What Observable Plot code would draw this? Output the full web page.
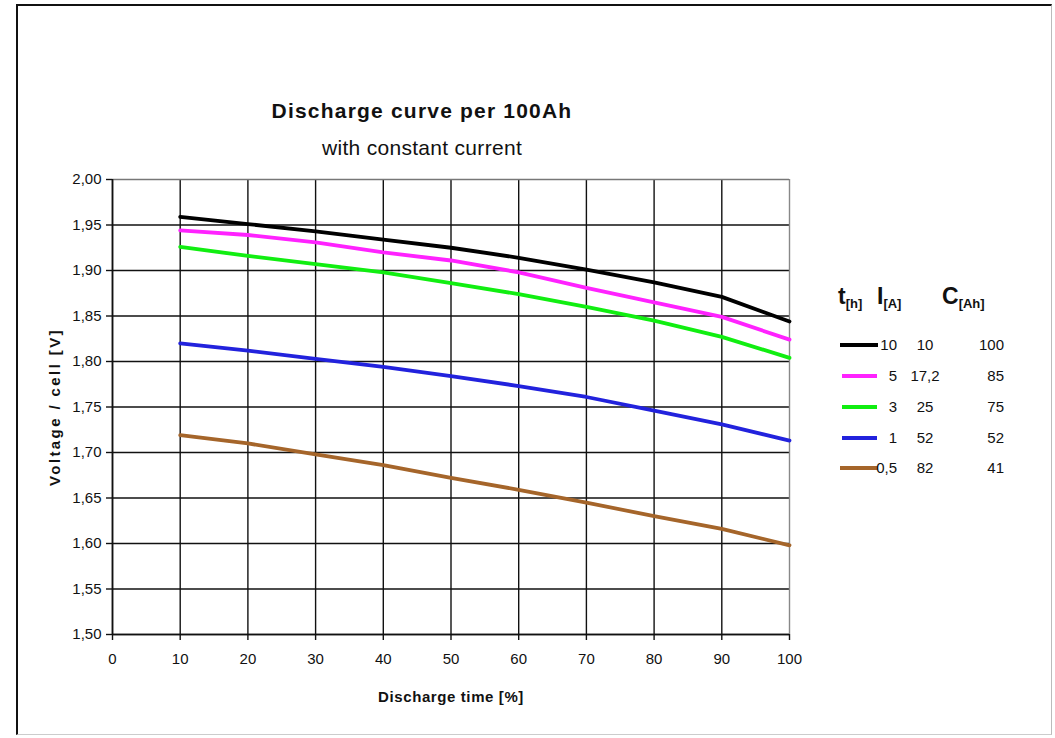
<!DOCTYPE html>
<html>
<head>
<meta charset="utf-8">
<script src="https://cdn.jsdelivr.net/npm/d3@7"></script>
<script src="https://cdn.jsdelivr.net/npm/@observablehq/plot@0.6"></script>
<style>
  html, body { margin: 0; padding: 0; background: #fff; }
  #wrap { position: relative; width: 1055px; height: 738px; overflow: hidden; background: #fff;
          font-family: "Liberation Sans", Arial, sans-serif; color: #111; }
  #frame { position: absolute; left: 16px; top: 4px; width: 1036px; height: 731px;
           border-left: 2.5px solid #111; border-top: 2.5px solid #111;
           border-right: 1px solid #bbb; border-bottom: 1px solid #ccc; box-sizing: border-box; }
  #chart { position: absolute; left: 0; top: 0; }
  .title { position: absolute; left: 172px; width: 500px; text-align: center; white-space: nowrap; }
  #t1 { top: 99px; font-weight: bold; font-size: 21px; letter-spacing: 1.2px; }
  #t2 { top: 136px; font-size: 21px; letter-spacing: 0.3px; }
  .lg { position: absolute; white-space: nowrap; font-size: 15px; line-height: 16px; }
  .hdr { position: absolute; white-space: nowrap; font-weight: bold; font-size: 23px; top: 283px; }
  .hdr sub { font-size: 13px; vertical-align: -4px; }
  .sw { position: absolute; height: 4px; }
</style>
</head>
<body>
<div id="wrap">
  <div id="frame"></div>
  <div id="chart"></div>
  <div class="title" id="t1">Discharge curve per 100Ah</div>
  <div class="title" id="t2">with constant current</div>
  <div id="legend"></div>
</div>
<script>
// ---- data ----
const dischargeTime = [10, 20, 30, 40, 50, 60, 70, 80, 90, 100];
const v10h  = [1.959, 1.951, 1.943, 1.934, 1.925, 1.914, 1.901, 1.887, 1.871, 1.844];
const v5h   = [1.944, 1.939, 1.931, 1.920, 1.911, 1.898, 1.881, 1.865, 1.849, 1.824];
const v3h   = [1.926, 1.916, 1.907, 1.898, 1.886, 1.874, 1.860, 1.845, 1.827, 1.804];
const v1h   = [1.820, 1.812, 1.803, 1.794, 1.784, 1.773, 1.761, 1.746, 1.731, 1.713];
const v05h  = [1.719, 1.710, 1.698, 1.686, 1.672, 1.659, 1.645, 1.630, 1.616, 1.598];
const hours      = ["10", "5", "3", "1", "0,5"];
const currents   = ["10", "17,2", "25", "52", "82"];
const capacities = ["100", "85", "75", "52", "41"];
const colors     = ["#000000", "#ff22ff", "#11ee11", "#2222dd", "#a5652a"];
const xTicks = [0, 10, 20, 30, 40, 50, 60, 70, 80, 90, 100];
const yTicks = [1.50, 1.55, 1.60, 1.65, 1.70, 1.75, 1.80, 1.85, 1.90, 1.95, 2.00];

const seriesVals = [v10h, v5h, v3h, v1h, v05h];
const rows = [];
seriesVals.forEach((vals, s) => vals.forEach((v, i) => rows.push({series: hours[s], t: dischargeTime[i], v})));

const fmt = d => d.toFixed(2).replace(".", ",");

const plot = Plot.plot({
  width: 1055,
  height: 738,
  marginLeft: 112,
  marginRight: 266,
  marginTop: 179,
  marginBottom: 104,
  style: {background: "transparent", fontFamily: "'Liberation Sans', Arial, sans-serif", color: "#111"},
  x: {domain: [0, 100]},
  y: {domain: [1.5, 2.0]},
  color: {domain: hours, range: colors},
  marks: [
    Plot.gridX(xTicks.filter(d => d < 100), {stroke: "#111", strokeOpacity: 1, strokeWidth: 1.4}),
    Plot.gridY(yTicks.filter(d => d < 2.0), {stroke: "#111", strokeOpacity: 1, strokeWidth: 1.4}),
    Plot.ruleX([100], {stroke: "#888", strokeWidth: 1.4}),
    Plot.ruleY([2.0], {stroke: "#777", strokeWidth: 1.4}),
    Plot.ruleX([0], {stroke: "#111", strokeWidth: 1.6}),
    Plot.ruleY([1.5], {stroke: "#111", strokeWidth: 1.6}),
    Plot.axisX({ticks: xTicks, tickSize: 6, tickPadding: 13, fontSize: 15, label: null, stroke: "#111", strokeWidth: 1.4}),
    Plot.axisX({ticks: [], tickSize: 0, label: "Discharge time [%]", labelAnchor: "center", labelArrow: "none", labelOffset: 67, fontSize: 15, fontWeight: "bold"}),
    Plot.axisY({ticks: yTicks, tickSize: 6, tickPadding: 5, tickFormat: fmt, fontSize: 15, label: null, stroke: "#111", strokeWidth: 1.4}),
    Plot.axisY({ticks: [], tickSize: 0, label: "Voltage / cell [V]", labelAnchor: "center", labelArrow: "none", labelOffset: 63, fontSize: 15, fontWeight: "bold"}),
    Plot.line(rows, {x: "t", y: "v", z: "series", stroke: "series", strokeWidth: 3.8})
  ]
});
d3.select(plot).selectAll("g[aria-label='y-axis label'] text").style("letter-spacing", "2.4px");
d3.select(plot).selectAll("g[aria-label='x-axis label'] text").style("letter-spacing", "0.6px");
document.getElementById("chart").appendChild(plot);

// ---- legend (HTML) ----
const lg = document.getElementById("legend");
const add = (html, cls, style) => {
  const d = document.createElement("div");
  d.className = cls; d.innerHTML = html; d.style.cssText = style; lg.appendChild(d);
};
add("t<sub>[h]</sub>", "hdr", "left: 838px;");
add("I<sub>[A]</sub>", "hdr", "left: 877px;");
add("C<sub>[Ah]</sub>", "hdr", "left: 942px;");
const rowY = [345, 376, 407, 438, 468];
hours.forEach((h, i) => {
  const y = rowY[i];
  const first = i === 0 || i === 4;
  add("", "sw", `left:${first ? 840 : 842}px; width:${first ? 38 : 35}px; top:${y - 2}px; background:${colors[i]};`);
  add(h, "lg", `left:${870}px; width:27px; text-align:right; top:${y - 8}px;`);
  add(currents[i], "lg", `left:${905}px; width:40px; text-align:center; top:${y - 8}px;`);
  add(capacities[i], "lg", `left:${965}px; width:39px; text-align:right; top:${y - 8}px;`);
});
</script>
</body>
</html>
